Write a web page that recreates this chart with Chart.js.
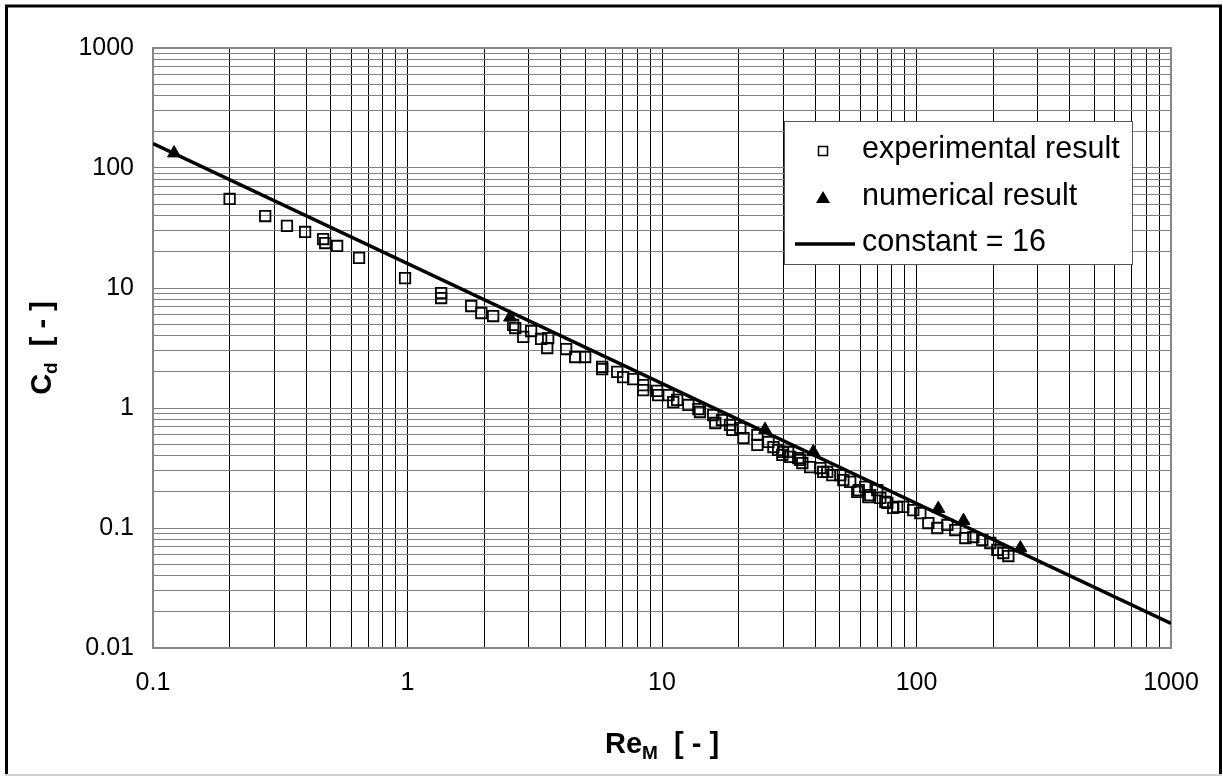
<!DOCTYPE html>
<html>
<head>
<meta charset="utf-8">
<script src="https://cdn.jsdelivr.net/npm/chart.js@4/dist/chart.umd.min.js"></script>
<style>
  html, body { margin: 0; padding: 0; background: #fff; }
  canvas { display: block; }
</style>
</head>
<body>
<canvas id="c" width="1223" height="776" style="width:1223px;height:776px"></canvas>
<script>
// Drag coefficient vs. modified Reynolds number
const experimentalRe = [
  0.2, 0.276, 0.336, 0.396, 0.466, 0.475, 0.529, 0.645, 0.978, 1.356, 1.356,
  1.78, 1.95, 2.17, 2.60, 2.65, 2.85, 3.06, 3.35, 3.57, 3.54, 4.20, 4.56, 4.99,
  5.82, 5.82, 6.67, 7.04, 7.70, 8.44, 8.44, 9.57, 9.66, 10.6, 11.07, 11.47, 12.7,
  13.9, 14.1, 15.9, 16.2, 17.2, 18.5, 18.9, 20.3, 20.9, 23.7, 23.7, 26.2, 27.4,
  28.6, 29.7, 29.9, 31.3, 31.9, 34.3, 34.9, 35.6, 38.2, 41.9, 43.0, 44.6, 46.7, 50.2, 51.6, 54.9,
  58.5, 59.3, 62.9, 64.7, 65.8, 70.1, 72.1, 75.4, 76.8, 81.0, 84.0, 88.7, 97.1, 103.5,
  111.3, 120.7, 132.2, 142, 155.5, 167.2, 181.4, 195, 207.8, 219.4, 229.5
];
const experimentalCd = [
  55.2, 39.8, 32.9, 29.3, 25.6, 23.7, 22.4, 17.8, 12.1, 9.08, 8.25,
  7.08, 6.19, 5.84, 4.92, 4.64, 3.91, 4.38, 3.76, 3.83, 3.16, 3.10, 2.66, 2.66,
  2.20, 2.11, 2.00, 1.81, 1.74, 1.55, 1.41, 1.39, 1.28, 1.28, 1.12, 1.17, 1.06,
  0.98, 0.926, 0.874, 0.75, 0.794, 0.722, 0.656, 0.681, 0.562, 0.596, 0.492, 0.521, 0.473,
  0.447, 0.406, 0.43, 0.43, 0.391, 0.383, 0.369, 0.348, 0.322, 0.316, 0.293, 0.293, 0.276, 0.276, 0.251, 0.242,
  0.200, 0.207, 0.220, 0.181, 0.188, 0.207, 0.178, 0.165, 0.162, 0.147, 0.150, 0.150, 0.141, 0.133,
  0.110, 0.100, 0.106, 0.0962, 0.0825, 0.0841, 0.0794, 0.075, 0.0656, 0.0619, 0.0584
];
const numericalRe = [0.121, 2.53, 25.4, 39.3, 121.8, 153, 256];
const numericalCd = [133, 5.7, 0.66, 0.43, 0.145, 0.115, 0.068];
const constantRe = [0.1, 1000];
const constantCd = [160, 0.016];

const seriesNames = ['experimental result', 'numerical result', 'constant = 16'];
const xDecades = [0.1, 1, 10, 100, 1000];
const xTickLabels = ['0.1', '1', '10', '100', '1000'];
const yDecades = [0.01, 0.1, 1, 10, 100, 1000];
const yTickLabels = ['0.01', '0.1', '1', '10', '100', '1000'];

const FONT = '"Liberation Sans", Arial, Helvetica, sans-serif';

const toPoints = (xs, ys) => xs.map((x, i) => ({ x, y: ys[i] }));

// 1..9 x 10^k grid positions for every decade of the axis
function decadeGrid(decades) {
  const vals = [];
  for (let i = 0; i < decades.length - 1; i++) {
    for (let m = 1; m <= 9; m++) vals.push(decades[i] * m);
  }
  vals.push(decades[decades.length - 1]);
  return vals;
}
function labelFor(v, decades, labels) {
  for (let i = 0; i < decades.length; i++) {
    if (Math.abs(v - decades[i]) / decades[i] < 1e-6) return labels[i];
  }
  return '';
}

// page frame + plot frame
const frames = {
  id: 'frames',
  beforeDraw(chart) {
    const ctx = chart.ctx;
    ctx.save();
    ctx.fillStyle = '#fff';
    ctx.fillRect(0, 0, chart.width, chart.height);
    ctx.strokeStyle = '#d0d0d0';
    ctx.lineWidth = 2;
    ctx.beginPath();
    ctx.moveTo(5, 775); ctx.lineTo(1222, 775);
    ctx.stroke();
    ctx.strokeStyle = '#000';
    ctx.lineWidth = 3;
    ctx.beginPath();
    ctx.moveTo(6.5, 774); ctx.lineTo(6.5, 6); ctx.lineTo(1220.5, 6); ctx.lineTo(1220.5, 774);
    ctx.stroke();
    ctx.restore();
  },
  beforeDatasetsDraw(chart) {
    const { ctx, chartArea: a } = chart;
    ctx.save();
    ctx.strokeStyle = '#878787';
    ctx.lineWidth = 2;
    ctx.strokeRect(a.left, a.top, a.right - a.left, a.bottom - a.top);
    ctx.restore();
  }
};

// axis titles with subscripts
function drawSubscripted(ctx, main, sub, rest, cx, baseline) {
  const big = 'bold 29px ' + FONT;
  const small = 'bold 19px ' + FONT;
  ctx.font = big;
  const w1 = ctx.measureText(main).width;
  const w3 = ctx.measureText(rest).width;
  ctx.font = small;
  const w2 = ctx.measureText(sub).width;
  let x = cx - (w1 + w2 + w3) / 2;
  ctx.fillStyle = '#000';
  ctx.textAlign = 'left';
  ctx.textBaseline = 'alphabetic';
  ctx.font = big; ctx.fillText(main, x, baseline); x += w1;
  ctx.font = small; ctx.fillText(sub, x, baseline + 6); x += w2;
  ctx.font = big; ctx.fillText(rest, x, baseline);
}
const axisTitles = {
  id: 'axisTitles',
  afterDraw(chart) {
    const { ctx, chartArea: a } = chart;
    ctx.save();
    drawSubscripted(ctx, 'Re', 'M', '  [ - ]', (a.left + a.right) / 2, 753);
    ctx.translate(51, (a.top + a.bottom) / 2);
    ctx.rotate(-Math.PI / 2);
    drawSubscripted(ctx, 'C', 'd', '  [ - ]', 0, 0);
    ctx.restore();
  }
};

// boxed legend inside the plot
const boxLegend = {
  id: 'boxLegend',
  afterDatasetsDraw(chart) {
    const ctx = chart.ctx;
    const bx = 784, by = 121, bw = 348, bh = 143;
    ctx.save();
    ctx.fillStyle = '#fff';
    ctx.fillRect(bx, by, bw, bh);
    ctx.strokeStyle = '#555';
    ctx.lineWidth = 1;
    ctx.strokeRect(bx + 0.5, by + 0.5, bw, bh);

    const mx = 823, tx = 862;
    const rows = [151, 198, 244];
    // square
    ctx.strokeStyle = '#000';
    ctx.lineWidth = 1.5;
    ctx.strokeRect(mx - 4.5, rows[0] - 4.5, 9, 9);
    // triangle
    ctx.fillStyle = '#000';
    ctx.beginPath();
    ctx.moveTo(mx, rows[1] - 7);
    ctx.lineTo(mx + 7, rows[1] + 5);
    ctx.lineTo(mx - 7, rows[1] + 5);
    ctx.closePath();
    ctx.fill();
    // line
    ctx.lineWidth = 3.5;
    ctx.beginPath();
    ctx.moveTo(795, rows[2]); ctx.lineTo(855, rows[2]);
    ctx.stroke();

    ctx.font = '30.5px ' + FONT;
    ctx.textAlign = 'left';
    ctx.textBaseline = 'middle';
    seriesNames.forEach((s, i) => ctx.fillText(s, tx, rows[i] - 1));
    ctx.restore();
  }
};

new Chart(document.getElementById('c'), {
  type: 'scatter',
  data: {
    datasets: [
      {
        label: seriesNames[1],
        data: toPoints(numericalRe, numericalCd),
        pointStyle: 'triangle',
        pointRadius: 7.5,
        backgroundColor: '#000',
        borderColor: '#000',
        borderWidth: 1,
        order: 0
      },
      {
        label: seriesNames[2],
        data: toPoints(constantRe, constantCd),
        showLine: true,
        pointRadius: 0,
        borderColor: '#000',
        borderWidth: 3.5,
        order: 1
      },
      {
        label: seriesNames[0],
        data: toPoints(experimentalRe, experimentalCd),
        pointStyle: 'rect',
        pointRadius: 7.4,
        backgroundColor: 'rgba(255,255,255,0)',
        borderColor: '#000',
        borderWidth: 1.8,
        order: 2
      }
    ]
  },
  options: {
    responsive: false,
    animation: false,
    devicePixelRatio: 1,
    layout: { padding: { left: 0, top: 48, right: 52, bottom: 0 } },
    plugins: { legend: { display: false }, tooltip: { enabled: false } },
    scales: {
      x: {
        type: 'logarithmic',
        min: xDecades[0],
        max: xDecades[xDecades.length - 1],
        afterBuildTicks(s) { s.ticks = decadeGrid(xDecades).map(v => ({ value: v })); },
        afterFit(s) { s.height = 128; },
        grid: { color: '#000', lineWidth: 1, drawTicks: false },
        border: { display: false },
        ticks: {
          autoSkip: false, maxRotation: 0, padding: 20, color: '#000',
          font: { family: FONT, size: 25 },
          callback: v => labelFor(v, xDecades, xTickLabels)
        }
      },
      y: {
        type: 'logarithmic',
        min: yDecades[0],
        max: yDecades[yDecades.length - 1],
        afterBuildTicks(s) { s.ticks = decadeGrid(yDecades).map(v => ({ value: v })); },
        afterFit(s) { s.width = 153; },
        grid: { color: '#808080', lineWidth: 1, drawTicks: false },
        border: { display: false },
        ticks: {
          autoSkip: false, padding: 19, color: '#000',
          font: { family: FONT, size: 25 },
          callback: v => labelFor(v, yDecades, yTickLabels)
        }
      }
    }
  },
  plugins: [frames, axisTitles, boxLegend]
});
</script>
</body>
</html>
